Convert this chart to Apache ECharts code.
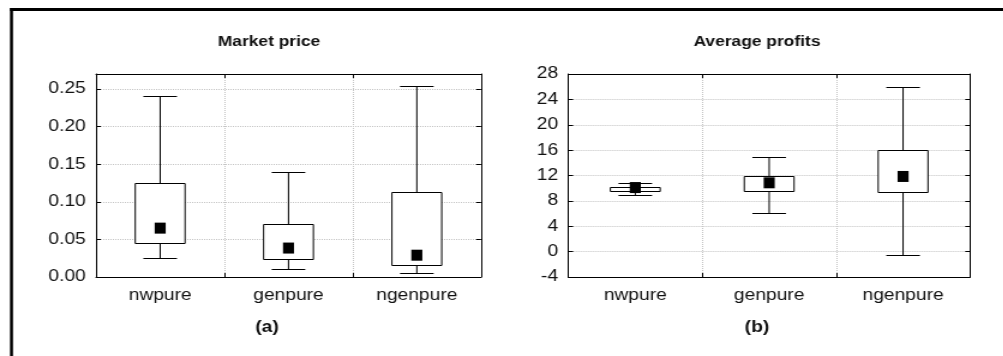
<!DOCTYPE html>
<html>
<head>
<meta charset="utf-8">
<script src="https://cdn.jsdelivr.net/npm/echarts@6/dist/echarts.min.js"></script>
<style>
  html, body { margin: 0; padding: 0; background: #fff; overflow: hidden; }
  #wrap { width: 1003px; height: 356px; overflow: hidden; position: relative; }
  #chart { width: 835.8px; height: 356px; transform: scaleX(1.2); transform-origin: 0 0; position: absolute; left: 0; top: 0; }
</style>
</head>
<body>
<div id="wrap"><div id="chart"></div></div>
<script>
// ---- data ----
const categories = ['nwpure', 'genpure', 'ngenpure'];

const priceMin  = [0.025, 0.010, 0.005];
const priceQ1   = [0.045, 0.0235, 0.0155];
const priceQ3   = [0.1245, 0.070, 0.1125];
const priceMax  = [0.241, 0.140, 0.2545];
const priceMean = [0.065, 0.0385, 0.029];

const profitMin  = [8.9, 6.15, -0.5];
const profitQ1   = [9.6, 9.6, 9.4];
const profitQ3   = [10.15, 12.0, 16.05];
const profitMax  = [10.75, 14.9, 26.0];
const profitMean = [10.1, 10.85, 11.85];

const priceTicks  = { min: 0, max: 0.27, interval: 0.05 };
const profitTicks = { min: -4, max: 28, interval: 4 };

const titles = ['Market price', 'Average profits'];
const subLabels = ['(a)', '(b)'];

// ---- build ----
const FONT = "'Liberation Sans', Arial, sans-serif";
const chart = echarts.init(document.getElementById('chart'));

function boxData(mn, q1, q3, mx) {
  return categories.map((c, i) => [i, mn[i], q1[i], q3[i], mx[i]]);
}
function meanData(m) {
  return categories.map((c, i) => [i, m[i]]);
}

function renderBox(params, api) {
  const i = api.value(0);
  const pMin = api.coord([i, api.value(1)]);
  const pQ1 = api.coord([i, api.value(2)]);
  const pQ3 = api.coord([i, api.value(3)]);
  const pMax = api.coord([i, api.value(4)]);
  const x = pMin[0];
  const boxW = 41.5, capW = 28;
  const r = v => Math.round(v) + 0.5;
  const ls = { stroke: '#000', lineWidth: 1, fill: null };
  return {
    type: 'group',
    children: [
      { type: 'line', shape: { x1: x, y1: r(pMax[1]), x2: x, y2: r(pQ3[1]) }, style: ls },
      { type: 'line', shape: { x1: x, y1: r(pQ1[1]), x2: x, y2: r(pMin[1]) }, style: ls },
      { type: 'line', shape: { x1: x - capW / 2, y1: r(pMax[1]), x2: x + capW / 2, y2: r(pMax[1]) }, style: ls },
      { type: 'line', shape: { x1: x - capW / 2, y1: r(pMin[1]), x2: x + capW / 2, y2: r(pMin[1]) }, style: ls },
      { type: 'rect', shape: { x: x - boxW / 2, y: r(pQ3[1]), width: boxW, height: r(pQ1[1]) - r(pQ3[1]) },
        style: { stroke: '#000', lineWidth: 1, fill: '#fff' } }
    ]
  };
}

const grids = [
  { left: 80, top: 74, width: 320.8, height: 203 },
  { left: 473.6, top: 74, width: 334.75, height: 203 }
];

const axisLineStyle = { color: '#000', width: 1 };
const splitStyle = { show: true, lineStyle: { color: '#c4c4c4', type: 'dotted', width: 1 } };

function xAxes(g) {
  return [
    { gridIndex: g, type: 'category', data: categories, position: 'bottom',
      axisLine: { show: true, onZero: false, lineStyle: axisLineStyle },
      axisTick: { show: true, inside: true, length: 4, interval: 0, lineStyle: axisLineStyle },
      axisLabel: { show: true, margin: 11, color: '#111', fontSize: 16, fontFamily: FONT },
      splitLine: splitStyle },
    { gridIndex: g, type: 'category', data: categories, position: 'top',
      axisLine: { show: true, onZero: false, lineStyle: axisLineStyle },
      axisTick: { show: true, inside: true, length: 4, interval: 0, lineStyle: axisLineStyle },
      axisLabel: { show: false }, splitLine: { show: false } }
  ];
}
function yAxes(g, t, fmt) {
  return [
    { gridIndex: g, type: 'value', position: 'left', min: t.min, max: t.max, interval: t.interval,
      axisLine: { show: true, lineStyle: axisLineStyle },
      axisTick: { show: true, inside: true, length: 4, lineStyle: axisLineStyle },
      axisLabel: { show: true, margin: 8.5, color: '#111', fontSize: 16, fontFamily: FONT,
        showMaxLabel: t.max % t.interval === 0, formatter: fmt },
      splitLine: splitStyle },
    { gridIndex: g, type: 'value', position: 'right', min: t.min, max: t.max, interval: t.interval,
      axisLine: { show: true, lineStyle: axisLineStyle },
      axisTick: { show: true, inside: true, length: 4, lineStyle: axisLineStyle },
      axisLabel: { show: false }, splitLine: { show: false } }
  ];
}

const titleStyle = { fontSize: 14.5, fontWeight: 'bold', color: '#111', fontFamily: FONT };
const subStyle = { fontSize: 16, fontWeight: 'bold', color: '#111', fontFamily: FONT };

const option = {
  animation: false,
  backgroundColor: '#fff',
  title: [
    { text: titles[0], left: 224.2, top: 34, padding: 0, textAlign: 'center', textStyle: titleStyle },
    { text: titles[1], left: 630.8, top: 34, padding: 0, textAlign: 'center', textStyle: titleStyle },
    { text: subLabels[0], left: 222.5, top: 320, padding: 0, textAlign: 'center', textStyle: subStyle },
    { text: subLabels[1], left: 630.8, top: 320, padding: 0, textAlign: 'center', textStyle: subStyle }
  ],
  grid: grids,
  xAxis: [...xAxes(0), ...xAxes(1)],
  yAxis: [
    ...yAxes(0, priceTicks, v => v.toFixed(2)),
    ...yAxes(1, profitTicks, v => String(Math.round(v)))
  ],
  graphic: [
    { type: 'rect', shape: { x: 8.3, y: 8, width: 830, height: 3 }, style: { fill: '#000' }, silent: true },
    { type: 'rect', shape: { x: 8.3, y: 8, width: 2.5, height: 360 }, style: { fill: '#000' }, silent: true }
  ],
  series: [
    { type: 'custom', xAxisIndex: 0, yAxisIndex: 0, renderItem: renderBox,
      data: boxData(priceMin, priceQ1, priceQ3, priceMax), encode: { x: 0, y: [1, 2, 3, 4] }, z: 2 },
    { type: 'scatter', xAxisIndex: 0, yAxisIndex: 0, symbol: 'rect', symbolSize: [9.2, 11],
      itemStyle: { color: '#000', opacity: 1 }, data: meanData(priceMean), z: 3 },
    { type: 'custom', xAxisIndex: 2, yAxisIndex: 2, renderItem: renderBox,
      data: boxData(profitMin, profitQ1, profitQ3, profitMax), encode: { x: 0, y: [1, 2, 3, 4] }, z: 2 },
    { type: 'scatter', xAxisIndex: 2, yAxisIndex: 2, symbol: 'rect', symbolSize: [9.2, 11],
      itemStyle: { color: '#000', opacity: 1 }, data: meanData(profitMean), z: 3 }
  ]
};
chart.setOption(option);
</script>
</body>
</html>
